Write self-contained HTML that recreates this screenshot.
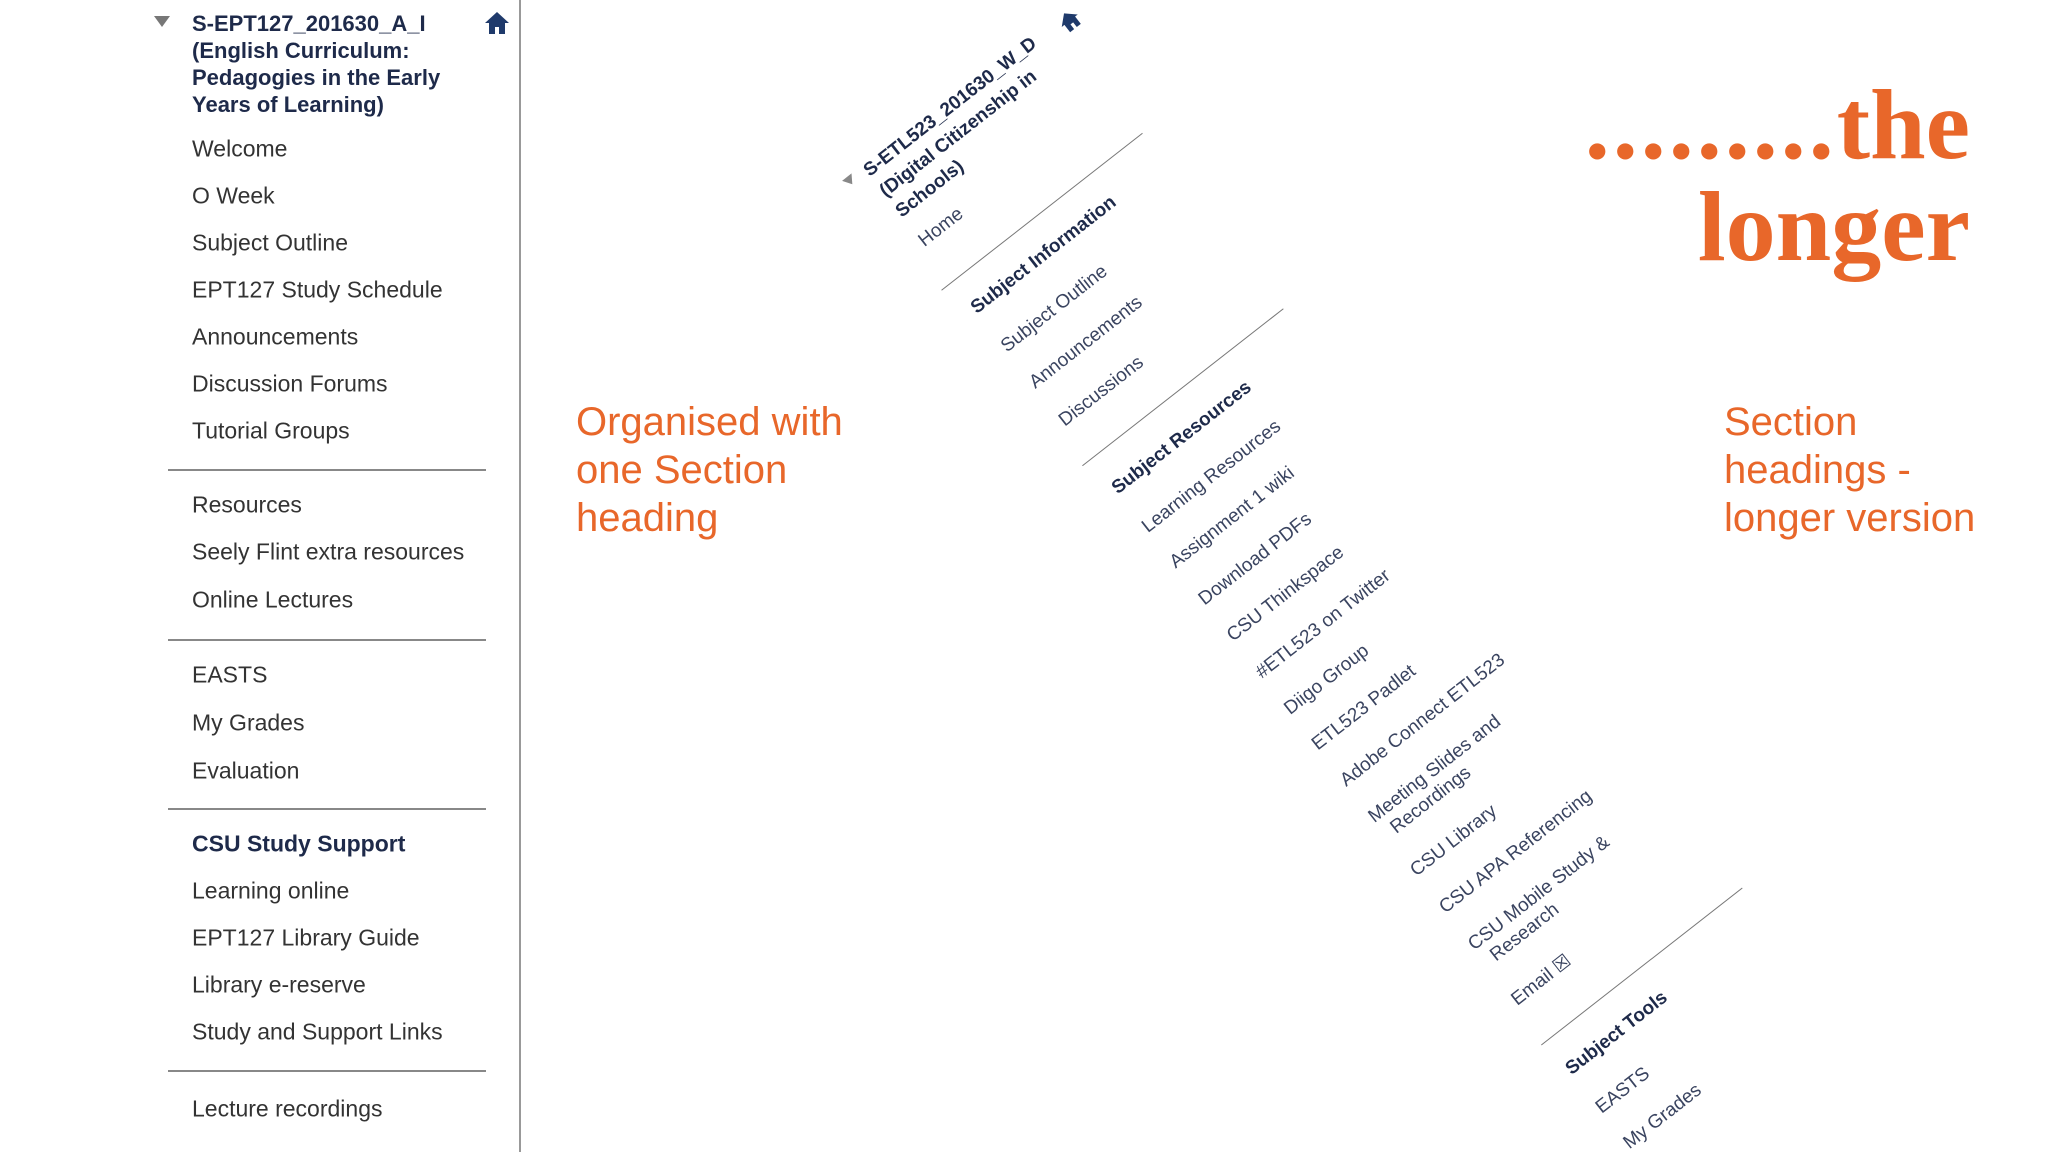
<!DOCTYPE html>
<html><head><meta charset="utf-8"><style>
body{margin:0;width:2048px;height:1152px;background:#fff;overflow:hidden;position:relative;font-family:"Liberation Sans",sans-serif}
.a{position:absolute;white-space:nowrap}
.li{position:absolute;left:192px;font-size:23px;color:#333;transform:translateY(-50%)}
.dv{position:absolute;left:168px;width:318px;height:2px;background:#888}
.or{color:#e8672a;font-size:40px;line-height:48px}
#rot{position:absolute;left:925px;top:248px;transform-origin:0 0;transform:rotate(-38deg)}
#rot .r{position:absolute;left:0;font-size:19px;color:#3a4460;white-space:nowrap;line-height:22px}
#rot .b{font-weight:bold;color:#1e2a4a}
#rot .d{position:absolute;height:1px;background:#777;width:255px}
</style></head><body>
<div class="a" style="left:519px;top:0;width:2px;height:1152px;background:#999"></div>
<div class="a" style="left:154px;top:16px;width:0;height:0;border-left:8px solid transparent;border-right:8px solid transparent;border-top:11px solid #777"></div>
<svg class="a" style="left:484px;top:10px" width="26" height="26" viewBox="0 0 26 26"><path d="M13 2 L25 13 L21 13 L21 24 L15 24 L15 17 L11 17 L11 24 L5 24 L5 13 L1 13 Z" fill="#1f3a6b"/></svg>
<div class="a" style="left:192px;top:10px;font-size:22px;font-weight:bold;color:#1e2a4a;line-height:27px">S-EPT127_201630_A_I<br>(English Curriculum:<br>Pedagogies in the Early<br>Years of Learning)</div>
<div class="li" style="top:149px">Welcome</div>
<div class="li" style="top:196px">O Week</div>
<div class="li" style="top:243px">Subject Outline</div>
<div class="li" style="top:290px">EPT127 Study Schedule</div>
<div class="li" style="top:337px">Announcements</div>
<div class="li" style="top:384px">Discussion Forums</div>
<div class="li" style="top:431px">Tutorial Groups</div>
<div class="dv" style="top:469px"></div>
<div class="li" style="top:505px">Resources</div>
<div class="li" style="top:552px">Seely Flint extra resources</div>
<div class="li" style="top:600px">Online Lectures</div>
<div class="dv" style="top:639px"></div>
<div class="li" style="top:675px">EASTS</div>
<div class="li" style="top:723px">My Grades</div>
<div class="li" style="top:771px">Evaluation</div>
<div class="dv" style="top:808px"></div>
<div class="li" style="top:844px;font-weight:bold;color:#1e2a4a">CSU Study Support</div>
<div class="li" style="top:891px">Learning online</div>
<div class="li" style="top:938px">EPT127 Library Guide</div>
<div class="li" style="top:985px">Library e-reserve</div>
<div class="li" style="top:1032px">Study and Support Links</div>
<div class="dv" style="top:1070px"></div>
<div class="li" style="top:1109px">Lecture recordings</div>

<div class="a or" style="left:576px;top:398px">Organised with<br>one Section<br>heading</div>
<div class="a or" style="left:1724px;top:398px">Section<br>headings -<br>longer version</div>
<div class="a" style="right:78px;top:74px;text-align:right;font-family:'Liberation Serif',serif;font-weight:bold;color:#e8672a;font-size:100px;line-height:102px"><span style="letter-spacing:3px">.........</span>the<br>longer</div>

<div id="rot">
<div class="a" style="left:-24px;top:-104px;border-left:6px solid transparent;border-right:6px solid transparent;border-top:9px solid #888"></div>
<svg class="a" style="left:243px;top:-101px" width="22" height="22" viewBox="0 0 26 26"><path d="M13 2 L25 13 L21 13 L21 24 L15 24 L15 17 L11 17 L11 24 L5 24 L5 13 L1 13 Z" fill="#1f3a6b"/></svg>
<div class="r b" style="top:-108px;line-height:26px">S-ETL523_201630_W_D<br>(Digital Citizenship in<br>Schools)</div>
<div class="r" style="top:-17px">Home</div>
<div class="d" style="left:-13px;top:43px"></div>
<div class="r b" style="top:68px">Subject Information</div>
<div class="r" style="top:117px">Subject Outline</div>
<div class="r" style="top:163px">Announcements</div>
<div class="r" style="top:211px">Discussions</div>
<div class="d" style="left:-10px;top:268px"></div>
<div class="r b" style="top:297px">Subject Resources</div>
<div class="r" style="top:346px">Learning Resources</div>
<div class="r" style="top:391px">Assignment 1 wiki</div>
<div class="r" style="top:438px">Download PDFs</div>
<div class="r" style="top:484px">CSU Thinkspace</div>
<div class="r" style="top:531px">#ETL523 on Twitter</div>
<div class="r" style="top:577px">Diigo Group</div>
<div class="r" style="top:622px">ETL523 Padlet</div>
<div class="r" style="top:668px">Adobe Connect ETL523</div>
<div class="r" style="top:714px">Meeting Slides and<br>&nbsp;&nbsp;Recordings</div>
<div class="r" style="top:782px">CSU Library</div>
<div class="r" style="top:829px">CSU APA Referencing</div>
<div class="r" style="top:876px">CSU Mobile Study &amp;<br>&nbsp;&nbsp;Research</div>
<div class="r" style="top:946px">Email ☒</div>
<div class="d" style="left:-5px;top:1007px"></div>
<div class="r b" style="top:1034px">Subject Tools</div>
<div class="r" style="top:1083px">EASTS</div>
<div class="r" style="top:1128px">My Grades</div>
</div>
</body></html>
